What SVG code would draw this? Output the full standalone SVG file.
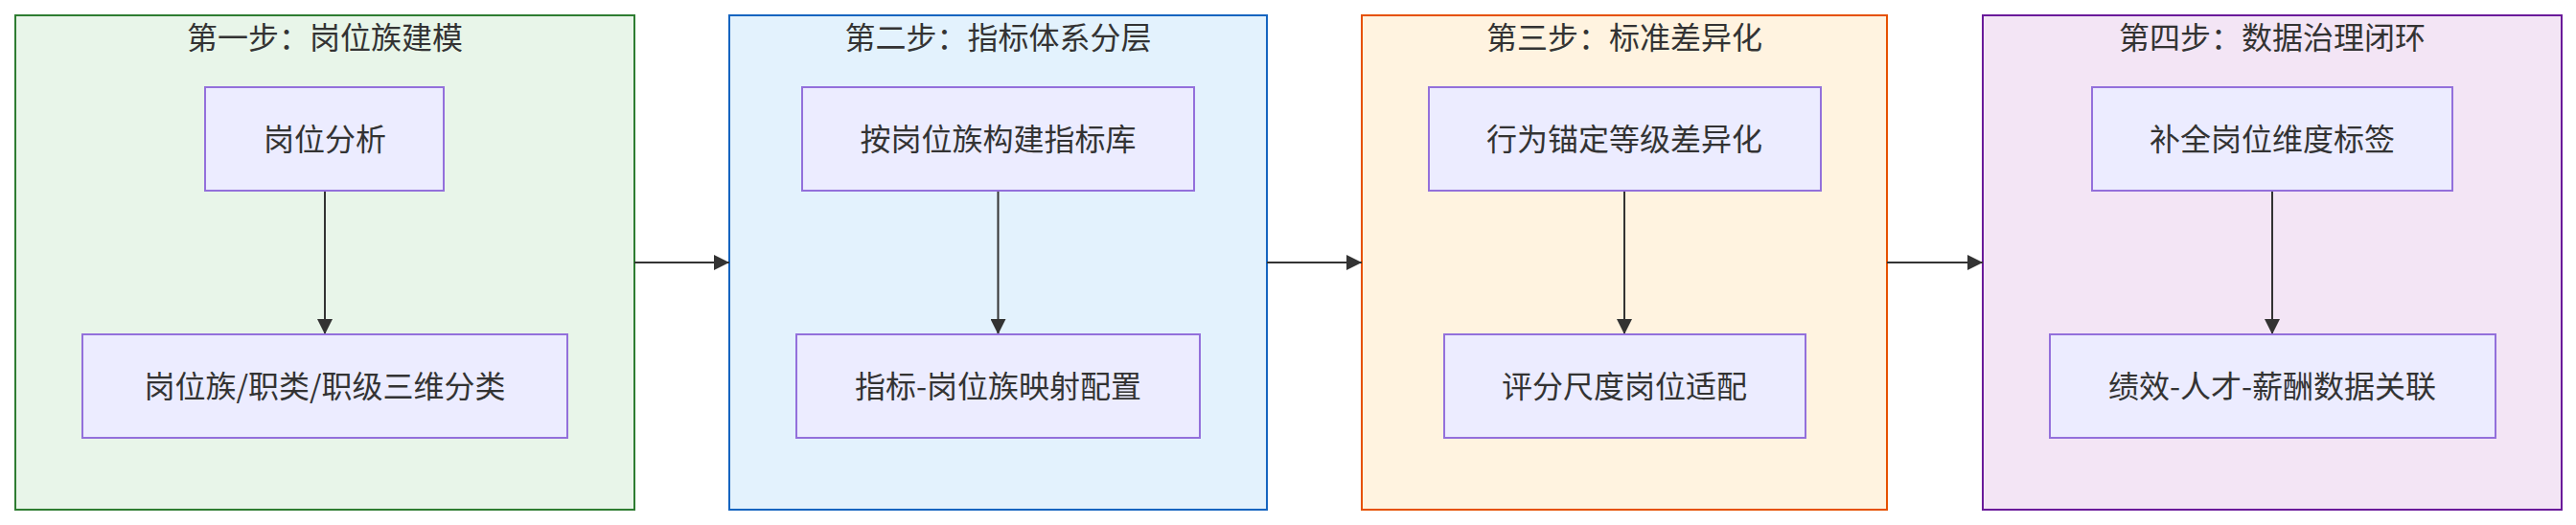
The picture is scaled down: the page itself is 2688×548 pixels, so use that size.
<svg xmlns="http://www.w3.org/2000/svg" width="2688" height="548" viewBox="0 0 2688 548">
<defs>
<style>
.cl{stroke-width:2}
.c1{fill:#e8f5e9;stroke:#2e7d32}
.c2{fill:#e3f2fd;stroke:#1565c0}
.c3{fill:#fff3e0;stroke:#e65100}
.c4{fill:#f3e5f5;stroke:#6a1b9a}
.nd{fill:#ececff;stroke:#9370db;stroke-width:2}
text{font-family:"Noto Sans CJK SC","Noto Sans",sans-serif;font-size:32px;fill:#333333;text-anchor:middle}
.edge{stroke:#333333;stroke-width:2;fill:none;marker-end:url(#arr)}
</style>
<marker id="arr" markerUnits="userSpaceOnUse" markerWidth="16" markerHeight="16" refX="16" refY="8" orient="auto" viewBox="0 0 16 16">
<path d="M0,0 L16,8 L0,16 z" fill="#333333"/>
</marker>
</defs>
<rect width="2688" height="548" fill="#ffffff"/>
<g id="cluster1">
<rect class="cl c1" x="16" y="16" width="646" height="516"/>
<text x="339" y="51">第一步：岗位族建模</text>
</g>
<g id="cluster2">
<rect class="cl c2" x="761" y="16" width="561" height="516"/>
<text x="1041.5" y="51">第二步：指标体系分层</text>
</g>
<g id="cluster3">
<rect class="cl c3" x="1421" y="16" width="548" height="516"/>
<text x="1695" y="51">第三步：标准差异化</text>
</g>
<g id="cluster4">
<rect class="cl c4" x="2069" y="16" width="604" height="516"/>
<text x="2371" y="51">第四步：数据治理闭环</text>
</g>
<g id="connectors">
<line class="edge" x1="339" y1="199" x2="339" y2="349"/>
<line class="edge" x1="1041.5" y1="199" x2="1041.5" y2="349"/>
<line class="edge" x1="1695" y1="199" x2="1695" y2="349"/>
<line class="edge" x1="2371" y1="199" x2="2371" y2="349"/>
<line class="edge" x1="662" y1="274" x2="761" y2="274"/>
<line class="edge" x1="1322" y1="274" x2="1421" y2="274"/>
<line class="edge" x1="1969" y1="274" x2="2069" y2="274"/>
</g>
<g id="n1a">
<rect class="nd" x="214" y="91" width="249" height="108"/>
<text x="339" y="157">岗位分析</text>
</g>
<g id="n1b">
<rect class="nd" x="86" y="349" width="506" height="108"/>
<text x="339" y="415">岗位族/职类/职级三维分类</text>
</g>
<g id="n2a">
<rect class="nd" x="837" y="91" width="409" height="108"/>
<text x="1041.5" y="157">按岗位族构建指标库</text>
</g>
<g id="n2b">
<rect class="nd" x="831" y="349" width="421" height="108"/>
<text x="1041.5" y="415">指标-岗位族映射配置</text>
</g>
<g id="n3a">
<rect class="nd" x="1491" y="91" width="409" height="108"/>
<text x="1695" y="157">行为锚定等级差异化</text>
</g>
<g id="n3b">
<rect class="nd" x="1507" y="349" width="377" height="108"/>
<text x="1695" y="415">评分尺度岗位适配</text>
</g>
<g id="n4a">
<rect class="nd" x="2183" y="91" width="376" height="108"/>
<text x="2371" y="157">补全岗位维度标签</text>
</g>
<g id="n4b">
<rect class="nd" x="2139" y="349" width="465" height="108"/>
<text x="2371" y="415">绩效-人才-薪酬数据关联</text>
</g>
</svg>
